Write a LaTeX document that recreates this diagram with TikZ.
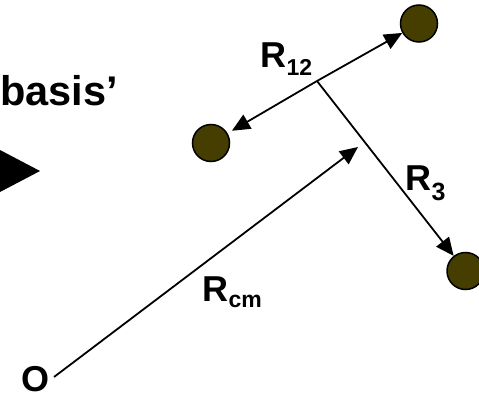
\documentclass[tikz,border=0pt]{standalone}
\usepackage{fontspec}
\setmainfont{Liberation Sans}
\usetikzlibrary{arrows.meta}
\definecolor{ballcol}{RGB}{70,62,0}
\begin{document}
\begin{tikzpicture}[x=1pt,y=-1pt,
  ball/.style={circle,draw=black,line width=1.5pt,fill=ballcol,minimum size=37pt,inner sep=0pt},
  vec/.style={line width=1.8pt,-{Triangle[length=18pt,width=16pt]}},
  lab/.style={font=\bfseries\fontsize{36}{37}\selectfont,anchor=base west,inner sep=0pt}]
\useasboundingbox (0,0) rectangle (479,396);
\newcommand{\subtxt}[2][8pt]{\raisebox{-#1}{\fontsize{23}{23}\selectfont #2}}
\fill (0,150) -- (40,171) -- (0,192) -- cycle;
\node[ball] (b1) at (419,23.5) {};
\node[ball] (b2) at (211,143) {};
\node[ball] (b3) at (465.5,271) {};
\coordinate (j) at (317,81);
\draw[vec] (j) -- (b1);
\draw[vec,shorten >=5pt] (j) -- (b2);
\draw[vec] (j) -- (b3);
\coordinate (o) at (54,377);
\coordinate (cm) at (358,147);
\draw[vec] (o) -- (cm);
\node[lab,font=\bfseries\fontsize{41.5}{42}\selectfont] (basis) at (0.2,105) {basis’};
\node[lab] (r12) at (260.3,67) {R\subtxt{12}};
\node[lab] (r3) at (405.3,190) {R\subtxt[10pt]{\fontsize{25}{25}\selectfont 3}};
\node[lab] (rcm) at (202.3,301) {R\subtxt[6pt]{cm}};
\node[lab] (O) at (21.5,391) {O};
\end{tikzpicture}
\end{document}
